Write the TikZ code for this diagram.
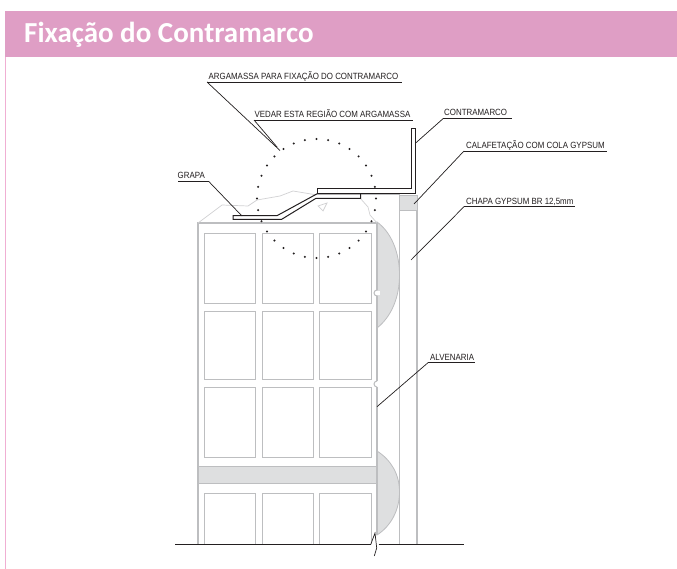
\documentclass[tikz,border=0pt]{standalone}
\usepackage{fontspec}
\setmainfont{Liberation Sans}
\newfontfamily\titlefont{Carlito}
\definecolor{pinkbar}{HTML}{DF9EC5}
\definecolor{pinkline}{HTML}{F0AFD3}
\definecolor{wallgray}{HTML}{BDBEC0}
\definecolor{fillgray}{HTML}{DEDFE0}
\definecolor{inkdark}{HTML}{231F20}
\tikzset{
  wall/.style={draw=wallgray,line width=1pt},
  thick wall/.style={draw=wallgray,line width=1.3pt},
  cell/.style={draw=wallgray,line width=1pt,fill=white},
  profile/.style={draw=inkdark,line width=1pt,fill=white,line join=miter},
  leader/.style={draw=inkdark,line width=0.7pt},
  shelf/.style={draw=inkdark,line width=0.8pt},
  lbl/.style={font=\fontsize{9}{9}\selectfont,text=inkdark,inner sep=0pt,anchor=base west,xscale=0.88},
  dotmark/.style={circle,fill=inkdark,inner sep=0pt,minimum size=2.3pt}
}
\begin{document}
\begin{tikzpicture}[x=1pt,y=-1pt]
\useasboundingbox (0,0) rectangle (677,569);
\fill[white] (0,0) rectangle (677,569);
% header
\fill[pinkbar] (5,11) rectangle (677,57);
\draw[pinkline,line width=1.2pt] (5.6,57) -- (5.6,569);
\node[font=\titlefont\bfseries\fontsize{29}{29}\selectfont,text=white,inner sep=0pt,anchor=base west] (title) at (24,43) {Fixação do Contramarco};
% mortar bulges
\fill[fillgray,draw=wallgray,line width=0.8pt] (377,222) .. controls (391,232) and (399.5,252) .. (399.5,275) .. controls (399.5,298) and (391,317) .. (377,328) -- cycle;
\fill[fillgray,draw=wallgray,line width=0.8pt] (377,451) .. controls (391,460) and (399.5,474) .. (399.5,492) .. controls (399.5,510) and (391,526) .. (377,535) -- cycle;
% block
\draw[thick wall] (198,544) -- (198,223) -- (377,223) -- (377,290);
\draw[thick wall] (377,296) -- (377,381);
\draw[thick wall] (377,387) -- (377,535);
\draw[wall,fill=white] (377,290) arc[start angle=90,end angle=270,radius=3pt];
\fill[white] (376,290.6) rectangle (380,295.4);
\draw[wall,fill=white] (377,381) arc[start angle=90,end angle=270,radius=3pt];
\foreach \cx/\cw in {204.5/51,262/51,319.5/51.5}{
  \foreach \ry/\rh in {234/69,311/68,387/70}{
    \draw[cell] (\cx,\ry) rectangle ++(\cw,\rh);
  }
  \draw[wall] (\cx,544) -- (\cx,493) -- ++(\cw,0) -- ++(0,51);
}
\fill[fillgray,draw=wallgray,line width=1.1pt] (198,466.5) rectangle (377,483.5);
% gypsum board
\draw[wall] (399.5,195) -- (399.5,544);
\draw[thick wall] (417,195) -- (417,544);
\fill[fillgray,draw=wallgray,line width=0.8pt] (399.5,195) rectangle (417,210);
\draw[wall] (361,194.5) -- (399.5,194.5);
% irregular mortar outline
\draw[draw=wallgray!70,line width=0.7pt] (198,223) -- (222,205) -- (248,206) -- (257,200) -- (280,196) -- (293,191) -- (317,195);
\draw[draw=wallgray!70,line width=0.7pt] (360,198) -- (368,207) -- (370,215) -- (377,223);
\draw[draw=wallgray!70,line width=0.7pt] (318,206) -- (327,203) -- (323,211) -- cycle;
% metal profiles
\draw[profile] (233,215.7) -- (277,215.7) -- (316.7,194) -- (360.7,194) -- (360.7,198.3) -- (316,198.3) -- (281.7,219.3) -- (233,219.3) -- cycle;
\draw[profile] (411.7,128.5) -- (415.7,128.5) -- (415.7,194) -- (317,194) -- (317,189) -- (411.7,189) -- cycle;
% dotted circle
\foreach \i in {0,...,31}{
  \node[dotmark] (d\i) at ({316.5+59.5*cos(\i*11.25)},{198.5+59.5*sin(\i*11.25)}) {};
}
% break line and ground
\coordinate (gl) at (175,544.5);
\coordinate (gr) at (464,544.5);
\coordinate (bl) at (370.7,544.5);
\coordinate (bu) at (375,533);
\coordinate (bm) at (376.7,548);
\coordinate (bd) at (374.3,556);
\coordinate (br) at (378.5,544.5);
\draw[inkdark,line width=0.7pt] (gl) -- (bl) -- (bu) -- (bm) -- (bd);
\draw[inkdark,line width=0.7pt] (br) -- (gr);
% labels
\node[lbl] (a) at (208.5,80) {ARGAMASSA PARA FIXAÇÃO DO CONTRAMARCO};
\node[lbl] (b) at (254.5,118) {VEDAR ESTA REGIÃO COM ARGAMASSA};
\node[lbl] (c) at (444,116) {CONTRAMARCO};
\node[lbl] (e) at (466,148.5) {CALAFETAÇÃO COM COLA GYPSUM};
\node[lbl] (f) at (466,204.5) {CHAPA GYPSUM BR 12,5mm};
\node[lbl] (g) at (177.5,179) {GRAPA};
\node[lbl] (h) at (430,360) {ALVENARIA};
% leaders
\coordinate (a1) at (207,82); \coordinate (a2) at (402,82); \coordinate (a3) at (280,150.5);
\draw[leader] (a3) -- (a1); \draw[shelf] (a1) -- (a2);
\coordinate (b1) at (254,120); \coordinate (b2) at (413,120); \coordinate (b3) at (277,147);
\draw[leader] (b3) -- (b1); \draw[shelf] (b1) -- (b2);
\coordinate (c1) at (443,118.7); \coordinate (c2) at (512,118.7); \coordinate (c3) at (416,142.7);
\draw[leader] (c3) -- (c1); \draw[shelf] (c1) -- (c2);
\coordinate (e1) at (464,151); \coordinate (e2) at (607,151); \coordinate (e3) at (414,204);
\draw[leader] (e3) -- (e1); \draw[shelf] (e1) -- (e2);
\coordinate (f1) at (464,206.7); \coordinate (f2) at (575,206.7); \coordinate (f3) at (411,260);
\draw[leader] (f3) -- (f1); \draw[shelf] (f1) -- (f2);
\coordinate (g1) at (178,181.7); \coordinate (g2) at (209,181.7); \coordinate (g3) at (242,216);
\draw[leader] (g3) -- (g2); \draw[shelf] (g1) -- (g2);
\coordinate (h1) at (428,362.7); \coordinate (h2) at (475,362.7); \coordinate (h3) at (377,406.7);
\draw[leader] (h3) -- (h1); \draw[shelf] (h1) -- (h2);
\end{tikzpicture}
\end{document}
